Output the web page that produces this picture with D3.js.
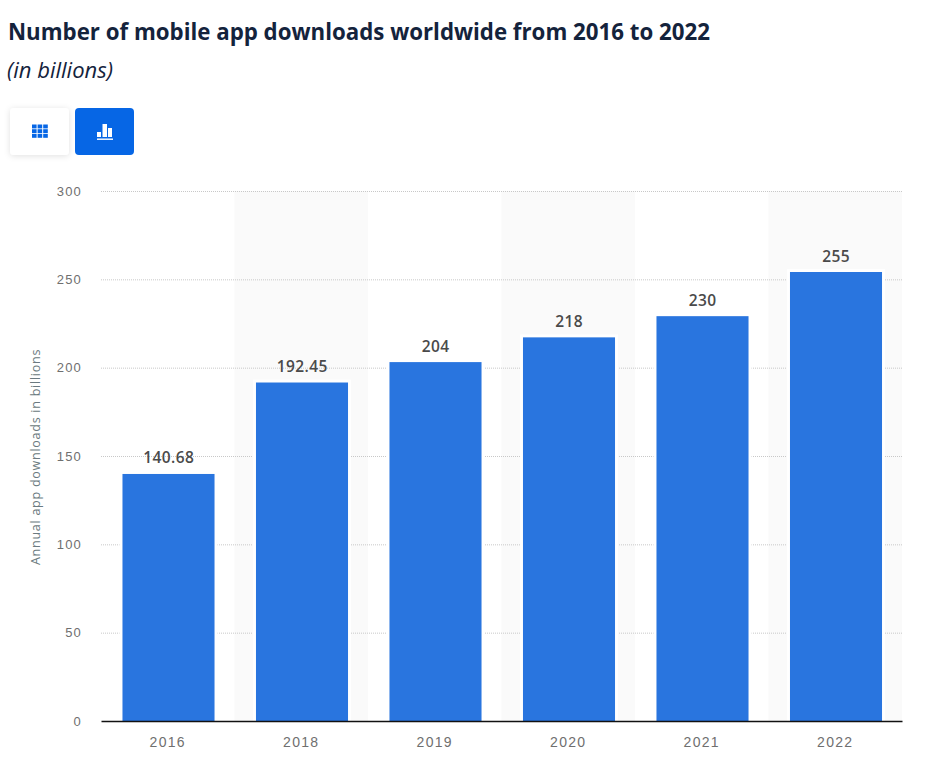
<!DOCTYPE html>
<html>
<head>
<meta charset="utf-8">
<script src="https://cdn.jsdelivr.net/npm/d3@7"></script>
<style>
  html, body { margin: 0; padding: 0; background: #fff; }
  svg { display: block; font-family: "Open Sans", sans-serif; }
  .tick-label { font-size: 13px; fill: #6f6f6f; letter-spacing: 1.2px; }
  .x-label { font-size: 14px; letter-spacing: 1.3px; }
  .value-label { font-size: 15.5px; font-weight: 600; fill: #4a4a4a; letter-spacing: 0.4px; }
</style>
</head>
<body>
<svg id="chart" width="925" height="777"></svg>
<script>
const years = ['2016', '2018', '2019', '2020', '2021', '2022']
const downloads = [140.68, 192.45, 204, 218, 230, 255]
const yTicks = [0, 50, 100, 150, 200, 250, 300]
const stripedYears = ['2018', '2020', '2022']

const svg = d3.select('#chart')

let margin = { top: 191, right: 23, bottom: 56, left: 101 },
  plot_width = 925 - margin.left - margin.right,
  plot_height = 777 - margin.top - margin.bottom

// title block
svg.append('text')
  .attr('x', 8).attr('y', 40)
  .attr('font-size', '22.27px').attr('font-weight', 700)
  .attr('fill', '#14233c')
  .text('Number of mobile app downloads worldwide from 2016 to 2022')

svg.append('text')
  .attr('x', 7).attr('y', 78)
  .attr('font-size', '22px').attr('font-style', 'italic')
  .attr('fill', '#14233c')
  .text('(in billions)')

// toggle buttons
let defs = svg.append('defs')
let shadow = defs.append('filter').attr('id', 'btn-shadow')
  .attr('x', '-20%').attr('y', '-20%').attr('width', '140%').attr('height', '150%')
shadow.append('feDropShadow')
  .attr('dx', 0).attr('dy', 1).attr('stdDeviation', 3)
  .attr('flood-color', '#000').attr('flood-opacity', 0.12)

svg.append('rect')
  .attr('x', 10).attr('y', 108).attr('width', 59).attr('height', 47).attr('rx', 4)
  .attr('fill', '#fff').attr('filter', 'url(#btn-shadow)')
svg.append('rect')
  .attr('x', 75).attr('y', 108).attr('width', 59).attr('height', 47).attr('rx', 4)
  .attr('fill', '#0666e5')

let grid = svg.append('g').attr('fill', '#0666e5')
d3.range(3).forEach(r => d3.range(3).forEach(c => {
  grid.append('rect')
    .attr('x', 32 + c * 5.6).attr('y', 124.5 + r * 4.7)
    .attr('width', 4.6).attr('height', 3.9)
}))

let icon = svg.append('g').attr('fill', '#fff')
icon.append('rect').attr('x', 97).attr('y', 132).attr('width', 4).attr('height', 5)
icon.append('rect').attr('x', 102.5).attr('y', 124).attr('width', 4.5).attr('height', 13)
icon.append('rect').attr('x', 108).attr('y', 128).attr('width', 4).attr('height', 9)
icon.append('rect').attr('x', 97).attr('y', 138.5).attr('width', 16).attr('height', 1.4)

// scales
let xScale = d3.scaleBand()
  .domain(years)
  .range([0, plot_width])

let barScale = d3.scaleBand()
  .domain(years)
  .range([0.75, plot_width + 0.75])
  .paddingInner(0.288)
  .paddingOuter(0.144)

let yScale = d3.scaleLinear()
  .domain([0, 300])
  .range([plot_height, 0])

let plot = svg.append('g')
  .attr('transform', `translate(${margin.left},${margin.top})`)

// alternating background bands
plot.append('g').selectAll('rect')
  .data(stripedYears)
  .enter()
  .append('rect')
  .attr('x', d => xScale(d))
  .attr('y', 0)
  .attr('width', xScale.bandwidth())
  .attr('height', plot_height)
  .attr('fill', '#fafafa')

// gridlines
plot.append('g').selectAll('line')
  .data(yTicks.filter(d => d > 0))
  .enter()
  .append('line')
  .attr('x1', 0).attr('x2', plot_width)
  .attr('y1', d => yScale(d) + 0.5).attr('y2', d => yScale(d) + 0.5)
  .attr('stroke', '#c8c8c8')
  .attr('stroke-dasharray', '1,1')

// y axis labels
let yAxis = d3.axisLeft(yScale).tickValues(yTicks).tickSize(0).tickPadding(19)
let yAxis_container = plot.append('g').call(yAxis)
yAxis_container.select('.domain').remove()
yAxis_container.selectAll('text').attr('class', 'tick-label').attr('font-family', null).attr('font-size', null)

plot.append('text')
  .attr('class', 'axislabel')
  .attr('font-size', '12.5px')
  .attr('fill', '#6b7a80')
  .attr('letter-spacing', '0.75px')
  .attr('transform', `translate(${40 - margin.left},${plot_height / 2 + 1}) rotate(-90)`)
  .style('text-anchor', 'middle')
  .text('Annual app downloads in billions')

// bars, the thick white border eats into the fill like the original columns
plot.append('g').selectAll('rect')
  .data(years)
  .enter()
  .append('rect')
  .attr('x', d => barScale(d))
  .attr('y', (d, i) => yScale(downloads[i]))
  .attr('width', barScale.bandwidth())
  .attr('height', (d, i) => plot_height - yScale(downloads[i]) + 1.5)
  .attr('fill', '#2975df')
  .attr('stroke', '#fff')
  .attr('stroke-width', 3)

// value labels
plot.append('g').selectAll('text')
  .data(years)
  .enter()
  .append('text')
  .attr('class', 'value-label')
  .attr('x', d => xScale(d) + xScale.bandwidth() / 2 + 1)
  .attr('y', (d, i) => yScale(downloads[i]) - 9)
  .style('text-anchor', 'middle')
  .text((d, i) => downloads[i])

// x axis
let xAxis = d3.axisBottom(xScale).tickSize(0).tickPadding(16)
let xAxis_container = plot.append('g')
  .attr('transform', `translate(0,${plot_height})`)
  .call(xAxis)
xAxis_container.select('.domain').attr('stroke', '#111').attr('stroke-width', 1.4)
xAxis_container.selectAll('text').attr('class', 'tick-label x-label').attr('font-family', null).attr('font-size', null)
</script>
</body>
</html>
